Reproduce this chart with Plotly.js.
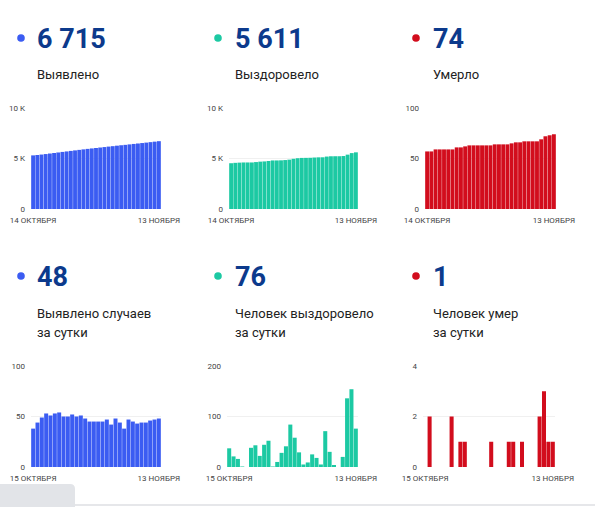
<!DOCTYPE html>
<html>
<head>
<meta charset="utf-8">
<script src="https://cdn.plot.ly/plotly-3.0.1.min.js"></script>
<style>
  html, body { margin: 0; padding: 0; background: #fff; }
  #chart { width: 595px; height: 507px; }
</style>
</head>
<body>
<div id="chart"></div>
<script>
// dates, 14 Oct .. 13 Nov
const datesCum = ['14.10','15.10','16.10','17.10','18.10','19.10','20.10','21.10','22.10','23.10','24.10',
  '25.10','26.10','27.10','28.10','29.10','30.10','31.10','01.11','02.11','03.11','04.11','05.11',
  '06.11','07.11','08.11','09.11','10.11','11.11','12.11','13.11'];
const datesDay = datesCum.slice(1);

// cumulative totals
const casesTotal = [5309,5347,5391,5440,5493,5544,5597,5651,5701,5751,5803,5853,5904,5952,5997,6042,
  6087,6132,6179,6221,6269,6313,6351,6398,6443,6486,6530,6574,6620,6667,6715];
const recoveredTotal = [4533,4570,4591,4607,4608,4608,4646,4689,4711,4755,4807,4808,4818,4846,4887,4971,
  5029,5058,5063,5072,5097,5115,5120,5191,5221,5225,5225,5245,5381,5535,5611];
const deathsTotal = [57,57,59,59,59,59,59,61,61,62,63,63,63,63,63,63,64,64,64,64,65,66,66,67,67,67,67,69,72,73,74];

// daily values, 15 Oct .. 13 Nov
const casesDaily = [38,44,49,53,51,53,54,50,50,52,50,51,48,45,45,45,45,47,42,48,44,38,47,45,43,44,44,46,47,48];
const recoveredDaily = [37,21,16,1,0,38,43,22,44,52,1,10,28,41,84,58,29,5,9,25,18,5,71,30,4,0,20,136,154,76];
const deathsDaily = [0,2,0,0,0,0,2,0,1,1,0,0,0,0,0,1,0,0,0,1,1,0,1,0,0,0,2,3,1,1];

const headNumbers = ['6 715','5 611','74','48','76','1'];
const headLabels = [['Выявлено'],['Выздоровело'],['Умерло'],
  ['Выявлено случаев','за сутки'],['Человек выздоровело','за сутки'],['Человек умер','за сутки']];

const BLUE = '#3b5cf2', GREEN = '#1cc9a3', RED = '#d20d1d';
const colors = [BLUE, GREEN, RED, BLUE, GREEN, RED];

const W = 595, H = 507;
const px = x => x / W;
const py = y => 1 - y / H;

const panels = [
  {x: datesCum, y: casesTotal, dom: [31,161], row: 0, range: [0,10000], tv: [0,5000,10000], tt: ['0','5 K','10 K']},
  {x: datesCum, y: recoveredTotal, dom: [229,358], row: 0, range: [0,10000], tv: [0,5000,10000], tt: ['0','5 K','10 K']},
  {x: datesCum, y: deathsTotal, dom: [425,556], row: 0, range: [0,100], tv: [0,50,100], tt: ['0','50','100']},
  {x: datesDay, y: casesDaily, dom: [31,161], row: 1, range: [0,100], tv: [0,50,100], tt: ['0','50','100']},
  {x: datesDay, y: recoveredDaily, dom: [227,358], row: 1, range: [0,200], tv: [0,100,200], tt: ['0','100','200']},
  {x: datesDay, y: deathsDaily, dom: [423,555], row: 1, range: [0,4], tv: [0,2,4], tt: ['0','2','4']},
];
const rowY = [[108,209],[366,467]];
const tickLabels = [['14 ОКТЯБРЯ','13 НОЯБРЯ'],['15 ОКТЯБРЯ','13 НОЯБРЯ']];

const layout = {
  width: W, height: H,
  margin: {l: 0, r: 0, t: 0, b: 0},
  paper_bgcolor: '#fff',
  plot_bgcolor: 'rgba(0,0,0,0)',
  showlegend: false,
  bargap: 0.08,
  font: {family: 'Roboto, "Noto Sans", sans-serif', size: 8, color: '#444'},
  annotations: [],
  shapes: [],
};

const data = [];
panels.forEach((p, i) => {
  const n = i + 1;
  const xa = 'xaxis' + (n === 1 ? '' : n), ya = 'yaxis' + (n === 1 ? '' : n);
  data.push({
    type: 'bar', x: p.x, y: p.y,
    xaxis: 'x' + (n === 1 ? '' : n), yaxis: 'y' + (n === 1 ? '' : n),
    marker: {color: colors[i], line: {width: 0}},
    hoverinfo: 'x+y',
  });
  layout[xa] = {
    domain: [px(p.dom[0]), px(p.dom[1])],
    anchor: 'y' + (n === 1 ? '' : n),
    type: 'category',
    showgrid: false, zeroline: false, showline: false, ticks: '',
    tickmode: 'array',
    tickvals: [p.x[0], p.x[p.x.length - 1]],
    ticktext: tickLabels[p.row],
    tickangle: 0,
    ticklabelstandoff: 5,
    tickfont: {size: 8, color: '#444'},
  };
  const ry = rowY[p.row];
  layout[ya] = {
    domain: [py(ry[1]), py(ry[0])],
    anchor: 'x' + (n === 1 ? '' : n),
    range: p.range,
    showgrid: true, gridcolor: '#f0f0f0', gridwidth: 1,
    zeroline: false, showline: false, ticks: '',
    tickmode: 'array', tickvals: p.tv, ticktext: p.tt,
    ticklabelstandoff: 5,
    tickfont: {size: 8, color: '#444'},
  };

  // header: dot, big number, caption
  const col = i % 3;
  const dotX = [21, 218, 416][col];
  const textX = [37, 235, 433][col];
  const numY = p.row === 0 ? 39 : 277;
  const labY = p.row === 0 ? 75 : 313;
  layout.shapes.push({
    type: 'circle', xref: 'paper', yref: 'paper',
    x0: px(dotX - 3.8), x1: px(dotX + 3.8), y0: py(numY + 2.8), y1: py(numY - 4.8),
    fillcolor: colors[i], line: {width: 0},
  });
  layout.annotations.push({
    xref: 'paper', yref: 'paper', x: px(textX - 2), y: py(numY), xanchor: 'left', yanchor: 'middle',
    text: '<b>' + headNumbers[i] + '</b>', showarrow: false,
    font: {size: 27, color: '#0c3a8c', family: 'Roboto, sans-serif'},
  });
  headLabels[i].forEach((t, k) => {
    layout.annotations.push({
      xref: 'paper', yref: 'paper', x: px(textX - 2), y: py(labY + k * 19), xanchor: 'left', yanchor: 'middle',
      text: t, showarrow: false,
      font: {size: 13, color: '#222', family: 'Roboto, sans-serif'},
    });
  });
});

// page furniture at the bottom
layout.shapes.push({
  type: 'line', xref: 'paper', yref: 'paper', x0: 0, x1: 1, y0: py(505), y1: py(505),
  line: {color: '#e6e7ea', width: 2},
});
layout.shapes.push({
  type: 'path', xref: 'paper', yref: 'paper',
  path: `M 0 ${py(507)} L 0 ${py(484)} L ${px(70)} ${py(484)} Q ${px(75)} ${py(484)} ${px(75)} ${py(489)} L ${px(75)} ${py(507)} Z`,
  fillcolor: '#e2e4e8', line: {width: 0},
});

Plotly.newPlot('chart', data, layout, {displayModeBar: false, staticPlot: true});
</script>
</body>
</html>
